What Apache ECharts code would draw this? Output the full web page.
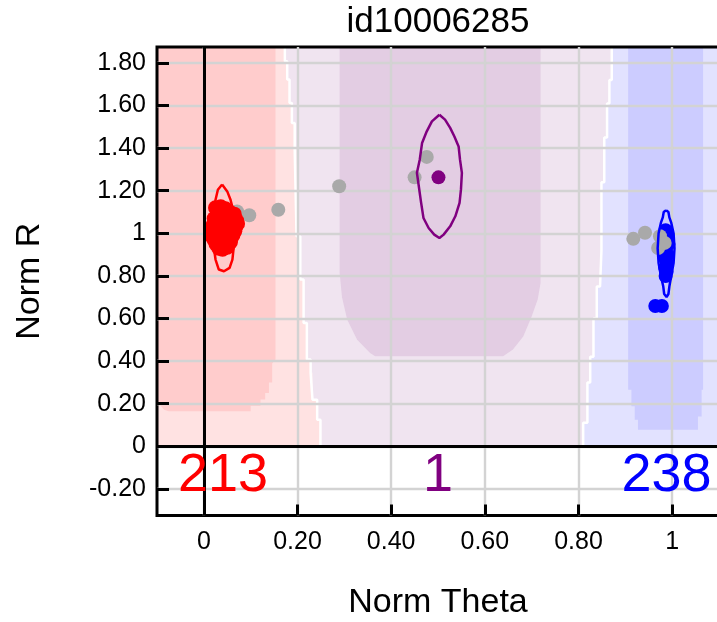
<!DOCTYPE html>
<html>
<head>
<meta charset="utf-8">
<script src="https://cdn.jsdelivr.net/npm/echarts@6/dist/echarts.min.js"></script>
<style>
  html, body { margin: 0; padding: 0; background: #fff; }
  #chart { width: 717px; height: 622px; }
</style>
</head>
<body>
<div id="chart"></div>
<script>
// Axis extents and tick positions
const X_MIN = -0.1, X_MAX = 1.1;
const Y_MIN = -0.325, Y_MAX = 1.875;
const xTicks = [0, 0.2, 0.4, 0.6, 0.8, 1];
const yTicks = [-0.2, 0, 0.2, 0.4, 0.6, 0.8, 1, 1.2, 1.4, 1.6, 1.8];

// Decision-region boundaries (top to bottom)
const boundaryRedPurple = [
  [0.173, 1.875], [0.173, 1.808], [0.178, 1.808], [0.178, 1.722], [0.183, 1.722],
  [0.183, 1.612], [0.188, 1.612], [0.188, 1.518], [0.194, 1.518], [0.194, 1.393],
  [0.198, 1.393], [0.198, 0.986], [0.206, 0.986], [0.206, 0.783], [0.213, 0.783],
  [0.213, 0.579], [0.220, 0.579], [0.220, 0.407], [0.228, 0.407], [0.228, 0.345],
  [0.232, 0.345], [0.232, 0.219], [0.242, 0.219], [0.242, 0.125], [0.249, 0.125],
  [0.249, 0]
];
const boundaryPurpleBlue = [
  [0.871, 1.875], [0.871, 1.72], [0.866, 1.72], [0.866, 1.61], [0.861, 1.61],
  [0.861, 1.45], [0.855, 1.45], [0.855, 1.24], [0.849, 1.24], [0.849, 0.92],
  [0.846, 0.92], [0.846, 0.75], [0.839, 0.75], [0.839, 0.60], [0.832, 0.60],
  [0.832, 0.42], [0.825, 0.42], [0.825, 0.30], [0.819, 0.30], [0.819, 0.11],
  [0.810, 0.11], [0.810, 0]
];

// High-confidence cores of each region
const coreRed = [
  [-0.1, 1.875], [0.153, 1.875], [0.153, 0.407], [0.146, 0.39], [0.146, 0.30],
  [0.139, 0.30], [0.139, 0.25], [0.131, 0.25], [0.131, 0.22], [0.121, 0.22],
  [0.121, 0.19], [0.100, 0.19], [0.100, 0.164], [-0.075, 0.164], [-0.085, 0.172],
  [-0.092, 0.19], [-0.1, 0.20]
];
const corePurple = [
  [0.290, 1.875], [0.719, 1.875], [0.719, 0.767], [0.713, 0.69], [0.700, 0.61],
  [0.682, 0.516], [0.660, 0.454], [0.639, 0.423], [0.366, 0.423], [0.355, 0.438],
  [0.327, 0.501], [0.306, 0.595], [0.295, 0.70], [0.290, 0.814]
];
const coreBlue = [
  [0.906, 1.875], [1.066, 1.875], [1.066, 0.266], [1.063, 0.266], [1.063, 0.14],
  [1.055, 0.14], [1.055, 0.078], [0.927, 0.078], [0.927, 0.125], [0.920, 0.125],
  [0.920, 0.188], [0.913, 0.188], [0.913, 0.266], [0.906, 0.266]
];

// Points per cluster
const redPoints = [
  [0.025, 1.12], [0.036, 1.125], [0.046, 1.115], [0.055, 1.10], [0.065, 1.09],
  [0.070, 1.06], [0.068, 1.03], [0.060, 1.05], [0.050, 1.07], [0.040, 1.08],
  [0.030, 1.09], [0.022, 1.07], [0.020, 1.04], [0.017, 1.01], [0.015, 0.99],
  [0.022, 0.97], [0.026, 0.95], [0.032, 0.93], [0.040, 0.925], [0.050, 0.935],
  [0.057, 0.96], [0.062, 0.99], [0.066, 1.01], [0.045, 1.00], [0.035, 1.02],
  [0.050, 1.03], [0.030, 0.97], [0.055, 1.075], [0.042, 0.96], [0.072, 1.045]
];
const bluePoints = [
  [0.986, 1.015], [0.990, 0.99], [0.985, 0.97], [0.992, 0.95], [0.987, 0.93],
  [0.990, 0.90], [0.986, 0.88], [0.989, 0.86], [0.985, 0.84], [0.988, 0.82],
  [0.986, 0.80], [0.991, 0.97], [0.984, 0.905], [0.964, 0.659], [0.978, 0.659]
];
const purplePoints = [[0.501, 1.263]];
const grayPoints = [
  [0.071, 1.103], [0.097, 1.085], [0.159, 1.111], [0.289, 1.221], [0.450, 1.263],
  [0.476, 1.359], [0.917, 0.974], [0.942, 1.003], [0.970, 0.931], [0.974, 0.986],
  [0.984, 0.955]
];

// Density contours
const contourRed = [
  [0.039, 1.229], [0.050, 1.197], [0.057, 1.158], [0.064, 1.096], [0.068, 1.017],
  [0.064, 0.939], [0.061, 0.877], [0.055, 0.838], [0.043, 0.822], [0.032, 0.830],
  [0.025, 0.877], [0.021, 0.939], [0.018, 1.017], [0.021, 1.096], [0.025, 1.158],
  [0.030, 1.205], [0.039, 1.229]
];
const contourPurple = [
  [0.503, 1.557], [0.515, 1.534], [0.526, 1.495], [0.535, 1.455], [0.544, 1.408],
  [0.547, 1.346], [0.551, 1.284], [0.549, 1.205], [0.546, 1.143], [0.537, 1.080],
  [0.526, 1.033], [0.512, 0.994], [0.503, 0.978], [0.492, 0.994], [0.480, 1.025],
  [0.469, 1.072], [0.464, 1.143], [0.459, 1.221], [0.455, 1.284], [0.461, 1.346],
  [0.466, 1.424], [0.476, 1.479], [0.487, 1.526], [0.503, 1.557]
];
const contourBlue = [
  [0.987, 1.108], [0.992, 1.10], [0.994, 1.075], [0.998, 1.05], [1.003, 1.00],
  [1.005, 0.93], [1.003, 0.86], [0.998, 0.80], [0.994, 0.75], [0.992, 0.715],
  [0.988, 0.701], [0.983, 0.715], [0.981, 0.75], [0.976, 0.80], [0.971, 0.86],
  [0.969, 0.93], [0.971, 1.00], [0.976, 1.05], [0.980, 1.075], [0.982, 1.10],
  [0.987, 1.108]
];

// Cluster sizes written under each cluster
const countLabels = ['213', '1', '238'];
const countX = [0.041, 0.5, 0.988];
const countY = [-0.142, -0.142, -0.142];

const RED = '#ff0000', PURPLE = '#800080', BLUE = '#0000ff', GRAY = '#a9a9a9';
const FONT = '"Liberation Sans", Arial, Helvetica, sans-serif';

// Region polygons built from the boundaries
const regionRedOuter = [[X_MIN, Y_MAX]].concat(boundaryRedPurple, [[X_MIN, 0]]);
const regionPurpleOuter = boundaryRedPurple.concat(boundaryPurpleBlue.slice().reverse());
const regionBlueOuter = boundaryPurpleBlue.concat([[X_MAX, 0], [X_MAX, Y_MAX]]);

const regionLayers = [
  { pts: regionRedOuter, fill: '#ffe2e2' },
  { pts: regionPurpleOuter, fill: '#f0e4f0' },
  { pts: regionBlueOuter, fill: '#e2e2ff' },
  { pts: coreRed, fill: '#ffcccc' },
  { pts: corePurple, fill: '#e3cde3' },
  { pts: coreBlue, fill: '#ccccff' }
];

function tickText(v) {
  if (Math.abs(v) < 1e-9) return '0';
  if (Math.abs(v - 1) < 1e-9) return '1';
  return v.toFixed(2);
}

const chart = echarts.init(document.getElementById('chart'), null, { renderer: 'canvas' });

const option = {
  animation: false,
  backgroundColor: '#fff',
  textStyle: { fontFamily: FONT },
  grid: {
    left: 157, top: 47, width: 562, height: 468.5,
    show: true, borderColor: '#000', borderWidth: 3, backgroundColor: 'transparent',
    containLabel: false, outerBoundsMode: 'none'
  },
  graphic: [{
    type: 'text', x: 438, y: 22, z: 10,
    style: {
      text: 'id10006285', font: '35px ' + FONT, fill: '#000',
      textAlign: 'center', textVerticalAlign: 'middle'
    }
  }],
  xAxis: {
    type: 'value', min: X_MIN, max: X_MAX,
    axisLine: { show: false, onZero: false },
    axisTick: { show: true, inside: true, length: 11, customValues: xTicks,
                lineStyle: { color: '#000', width: 3 } },
    axisLabel: { customValues: xTicks, formatter: tickText, fontSize: 25,
                 color: '#000', margin: 14, fontFamily: FONT },
    splitLine: { show: true, lineStyle: { color: '#d3d3d3', width: 2.4 } },
    name: 'Norm Theta', nameLocation: 'middle', nameGap: 70,
    nameTextStyle: { fontSize: 34, color: '#000', fontFamily: FONT }
  },
  yAxis: {
    type: 'value', min: Y_MIN, max: Y_MAX,
    axisLine: { show: false, onZero: false },
    axisTick: { show: true, inside: true, length: 12, customValues: yTicks,
                lineStyle: { color: '#000', width: 3 } },
    axisLabel: { customValues: yTicks, formatter: tickText, fontSize: 25,
                 color: '#000', margin: 11, fontFamily: FONT },
    splitLine: { show: true, lineStyle: { color: '#d3d3d3', width: 2.4 } },
    name: 'Norm R', nameLocation: 'middle', nameGap: 110,
    nameTextStyle: { fontSize: 34, color: '#000', fontFamily: FONT }
  },
  series: [
    {
      type: 'custom', name: 'regions', z: -2, silent: true,
      data: regionLayers.map((r, i) => [i, 0]),
      renderItem: function (params, api) {
        const layer = regionLayers[params.dataIndex];
        return {
          type: 'polygon',
          shape: { points: layer.pts.map(p => api.coord(p)) },
          style: { fill: layer.fill, stroke: null }
        };
      }
    },
    {
      type: 'line', name: 'edge1', z: -1, silent: true, symbol: 'none',
      data: boundaryRedPurple, lineStyle: { color: '#fff', width: 2.5 }
    },
    {
      type: 'line', name: 'edge2', z: -1, silent: true, symbol: 'none',
      data: boundaryPurpleBlue, lineStyle: { color: '#fff', width: 2.5 }
    },
    {
      type: 'scatter', name: 'axes0', data: [], silent: true,
      markLine: {
        silent: true, symbol: ['none', 'none'], label: { show: false },
        lineStyle: { color: '#000', width: 3, type: 'solid', opacity: 1 },
        emphasis: { disabled: true },
        data: [{ xAxis: 0 }, { yAxis: 0 }]
      }
    },
    {
      type: 'scatter', name: 'blue', data: bluePoints, symbolSize: 14,
      itemStyle: { color: BLUE, opacity: 1 }
    },
    {
      type: 'scatter', name: 'gray', data: grayPoints, symbolSize: 14,
      itemStyle: { color: GRAY, opacity: 1 }
    },
    {
      type: 'scatter', name: 'red', data: redPoints, symbolSize: 15,
      itemStyle: { color: RED, opacity: 1 }
    },
    {
      type: 'scatter', name: 'purple', data: purplePoints, symbolSize: 14,
      itemStyle: { color: PURPLE, opacity: 1 }
    },
    {
      type: 'line', name: 'cRed', data: contourRed, symbol: 'none',
      lineStyle: { color: RED, width: 2.5 }
    },
    {
      type: 'line', name: 'cPurple', data: contourPurple, symbol: 'none',
      lineStyle: { color: PURPLE, width: 2.5 }
    },
    {
      type: 'line', name: 'cBlue', data: contourBlue, symbol: 'none',
      lineStyle: { color: BLUE, width: 2.5 }
    },
    {
      type: 'scatter', name: 'counts', symbolSize: 0, silent: true, z: 5,
      itemStyle: { opacity: 1 },
      data: countLabels.map((t, i) => ({
        value: [countX[i], countY[i]],
        label: { color: [RED, PURPLE, BLUE][i] }
      })),
      label: {
        show: true, position: 'inside', fontSize: 54, fontFamily: FONT, opacity: 1,
        formatter: p => countLabels[p.dataIndex]
      }
    }
  ]
};

chart.setOption(option);
</script>
</body>
</html>
